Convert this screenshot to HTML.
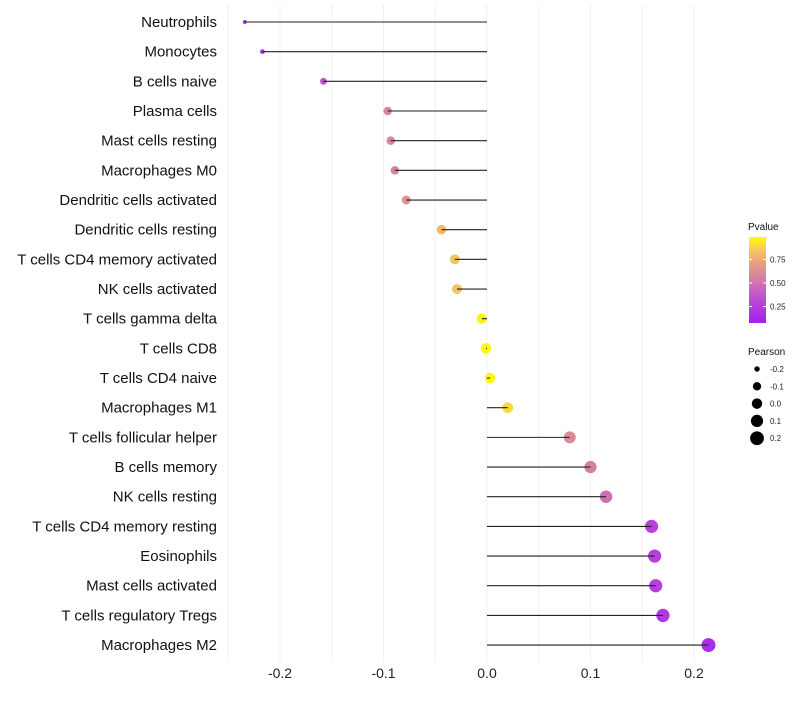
<!DOCTYPE html>
<html><head><meta charset="utf-8"><style>
body{margin:0;background:#fff;font-family:"Liberation Sans",sans-serif}
</style></head><body>
<svg id="c" width="800" height="700" xmlns="http://www.w3.org/2000/svg">
<defs><linearGradient id="pg" x1="0" y1="1" x2="0" y2="0">
<stop offset="0" stop-color="#a020f0"/><stop offset="0.3" stop-color="#c050d0"/><stop offset="0.5" stop-color="#d57aa8"/><stop offset="0.7" stop-color="#e8a080"/><stop offset="0.85" stop-color="#f5c860"/><stop offset="1" stop-color="#ffff00"/>
</linearGradient></defs>
</svg>
<script>
const categories=["Neutrophils","Monocytes","B cells naive","Plasma cells","Mast cells resting","Macrophages M0","Dendritic cells activated","Dendritic cells resting","T cells CD4 memory activated","NK cells activated","T cells gamma delta","T cells CD8","T cells CD4 naive","Macrophages M1","T cells follicular helper","B cells memory","NK cells resting","T cells CD4 memory resting","Eosinophils","Mast cells activated","T cells regulatory  Tregs ","Macrophages M2"];
const pearson=[-0.234,-0.217,-0.158,-0.096,-0.093,-0.089,-0.078,-0.044,-0.031,-0.029,-0.005,-0.001,0.003,0.020,0.080,0.100,0.115,0.159,0.162,0.163,0.170,0.214];
const pvalue=[0.1,0.12,0.3,0.55,0.55,0.56,0.62,0.8,0.83,0.83,0.97,0.98,0.98,0.9,0.58,0.52,0.45,0.2,0.2,0.2,0.15,0.08];
const xTicks=[-0.2,-0.1,0.0,0.1,0.2];
const xTickLabels=["-0.2","-0.1","0.0","0.1","0.2"];
const sizeLegend=[-0.2,-0.1,0.0,0.1,0.2];
const pTicks=[0.25,0.5,0.75];

const svg=document.getElementById('c');const NS="http://www.w3.org/2000/svg";
const X=v=>487+v*1035;
const Y=i=>22+i*29.67;
const R=v=>Math.sqrt(Math.max(2,27.4+100*v));
const stops=[[0,[160,32,240]],[0.3,[192,80,208]],[0.5,[213,122,168]],[0.7,[232,160,128]],[0.85,[245,200,96]],[1,[255,255,0]]];
function col(p){for(let i=1;i<stops.length;i++){if(p<=stops[i][0]){const a=stops[i-1],b=stops[i],t=(p-a[0])/(b[0]-a[0]);return 'rgb('+a[1].map((c,k)=>Math.round(c+(b[1][k]-c)*t)).join(',')+')';}}return 'rgb(255,255,0)';}
function el(t,a,txt){const e=document.createElementNS(NS,t);for(const k in a)e.setAttribute(k,a[k]);if(txt!==undefined)e.textContent=txt;svg.appendChild(e);return e;}
for(let v=-0.25;v<=0.2201;v+=0.05){const g=el('line',{x1:X(v),x2:X(v),y1:5,y2:662,stroke:'#f0f0f0','stroke-width':1});

}
xTicks.forEach((t,i)=>{const e=el('text',{x:X(t),y:678,'text-anchor':'middle','font-size':14,fill:'#222'},xTickLabels[i]);

});
categories.forEach((c,i)=>{
const l=el('text',{x:217,y:Y(i)+5,'text-anchor':'end','font-size':15,fill:'#111'},c);


const p=el('circle',{cx:X(pearson[i]),cy:Y(i),r:R(pearson[i]),fill:col(pvalue[i])});


const s=el('line',{x1:X(0),x2:X(pearson[i]),y1:Y(i),y2:Y(i),stroke:'#222','stroke-width':1.1});


});
let t=el('text',{x:748,y:230,'font-size':10,fill:'#111'},'Pvalue');


const bar=el('rect',{x:749,y:237,width:17,height:86,fill:'url(#pg)'});


const PY=p=>330-p*94;
pTicks.forEach(p=>{const e=el('text',{x:770,y:PY(p)+3,'font-size':8,fill:'#222'},p.toFixed(2));


el('line',{x1:749,x2:752,y1:PY(p),y2:PY(p),stroke:'#fff'});el('line',{x1:763,x2:766,y1:PY(p),y2:PY(p),stroke:'#fff'});});
t=el('text',{x:748,y:355,'font-size':10,fill:'#111'},'Pearson');


sizeLegend.forEach((v,i)=>{const cy=369+i*17.3;
const c=el('circle',{cx:757,cy:cy,r:R(v),fill:'#000'});


const e=el('text',{x:770,y:cy+3,'font-size':8,fill:'#222'},v.toFixed(1));

});
</script>
</body></html>
